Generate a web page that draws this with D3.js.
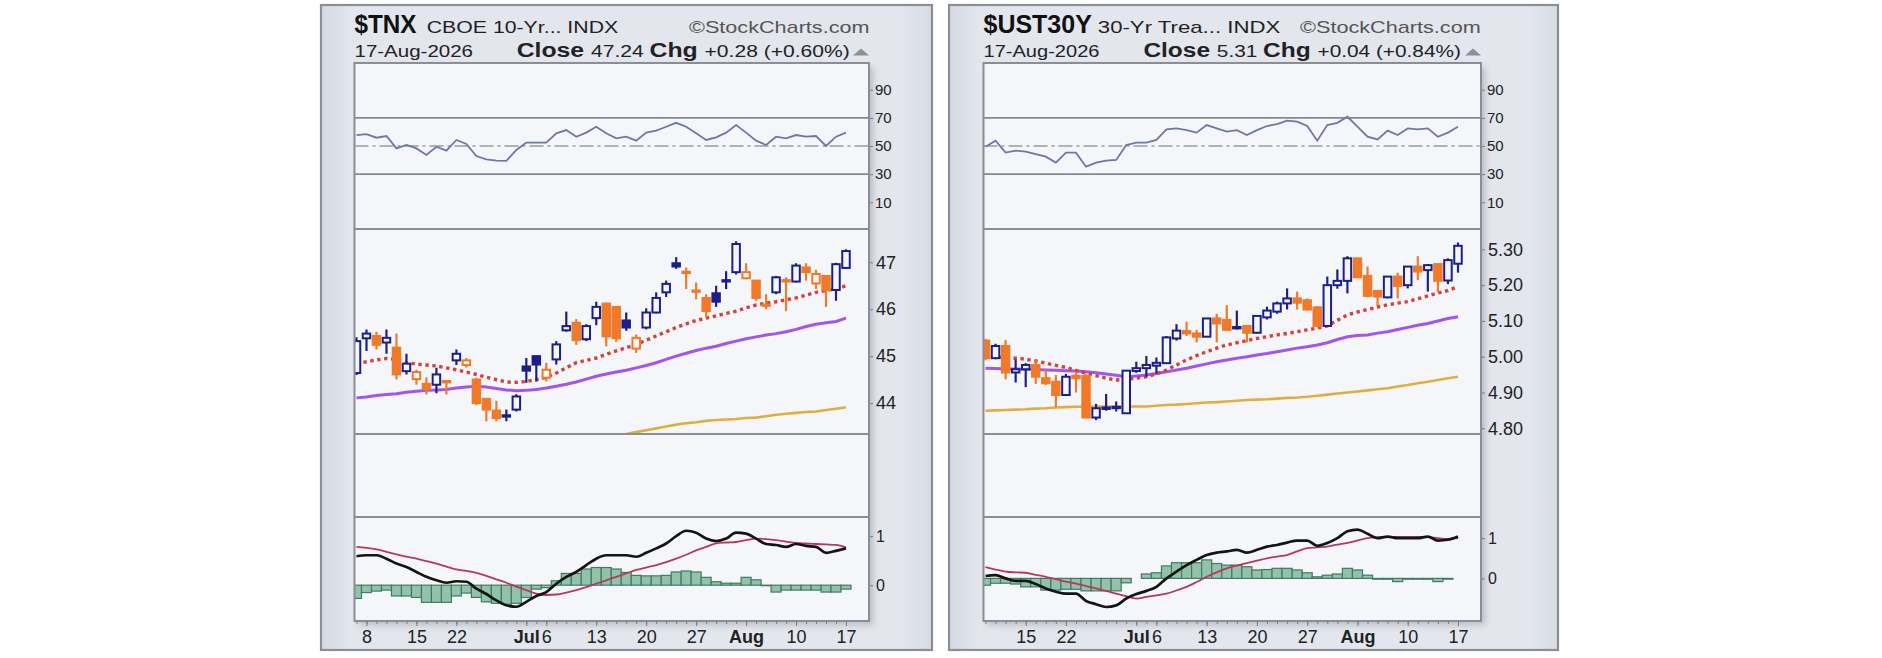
<!DOCTYPE html>
<html>
<head>
<meta charset="utf-8">
<script src="https://cdn.jsdelivr.net/npm/d3@7"></script>
<style>
  html, body { margin: 0; padding: 0; background: #fff; }
  svg { display: block; font-family: "Liberation Sans", Arial, sans-serif; }
</style>
</head>
<body>
<svg id="chart" width="1882" height="658"></svg>
<script>
// ---- dates / ticks ----
const tradingDays = [
  "2026-06-05","2026-06-08","2026-06-09","2026-06-10","2026-06-11","2026-06-12",
  "2026-06-15","2026-06-16","2026-06-17","2026-06-18",
  "2026-06-22","2026-06-23","2026-06-24","2026-06-25","2026-06-26",
  "2026-06-29","2026-06-30","2026-07-01","2026-07-02",
  "2026-07-06","2026-07-07","2026-07-08","2026-07-09","2026-07-10",
  "2026-07-13","2026-07-14","2026-07-15","2026-07-16","2026-07-17",
  "2026-07-20","2026-07-21","2026-07-22","2026-07-23","2026-07-24",
  "2026-07-27","2026-07-28","2026-07-29","2026-07-30","2026-07-31",
  "2026-08-03","2026-08-04","2026-08-05","2026-08-06","2026-08-07",
  "2026-08-10","2026-08-11","2026-08-12","2026-08-13","2026-08-14",
  "2026-08-17"
];
const tickDates  = ["2026-06-08","2026-06-15","2026-06-22","2026-07-01","2026-07-06","2026-07-13","2026-07-20","2026-07-27","2026-08-03","2026-08-10","2026-08-17"];
const tickLabels = ["8","15","22","Jul","6","13","20","27","Aug","10","17"];
const monthLabels = ["Jul","Aug"];

// ---- $TNX ----
const tnxDates = tradingDays;
const tnxPrevClose = 45.0;
const tnxOpen  = [44.64,45.38,45.43,45.29,45.18,44.68,44.51,44.41,44.39,44.47,44.91,44.81,44.50,44.09,43.84,43.74,43.86,44.78,45.00,44.54,44.93,45.55,45.71,45.36,45.81,46.12,46.05,45.76,45.16,45.61,45.93,46.36,46.98,46.80,46.40,46.24,46.34,46.62,46.79,46.66,46.61,46.10,46.36,46.62,46.59,46.89,46.55,46.71,46.41,46.88];
const tnxHigh  = [45.40,45.57,45.52,45.57,45.48,45.05,44.71,44.55,44.75,44.47,45.14,44.96,44.54,44.09,44.05,43.86,44.19,44.96,45.00,44.86,45.32,45.95,45.79,45.68,46.16,46.14,46.05,45.93,45.46,46.02,46.36,46.61,47.11,46.89,46.57,46.32,46.50,46.81,47.45,46.98,46.61,46.32,46.71,46.68,46.98,46.98,46.84,46.71,46.99,47.28];
const tnxLow   = [44.60,45.11,45.14,45.05,44.50,44.61,44.39,44.18,44.21,44.18,44.81,44.76,43.96,43.61,43.61,43.61,43.82,44.43,44.46,44.46,44.82,45.52,45.24,45.32,45.66,45.21,45.30,45.54,45.07,45.57,45.91,46.26,46.86,46.43,46.21,45.82,46.05,46.43,46.74,46.64,46.18,46.00,46.32,45.96,46.57,46.61,46.43,46.05,46.18,46.86];
const tnxClose = [45.32,45.48,45.24,45.39,44.61,44.84,44.66,44.30,44.61,44.45,45.05,44.91,44.00,43.86,43.68,43.72,44.14,44.69,44.82,44.71,45.25,45.64,45.34,45.64,46.05,45.42,45.38,45.61,45.39,45.93,46.24,46.54,46.91,46.78,46.38,45.96,46.16,46.60,47.39,46.79,46.24,46.09,46.68,46.60,46.93,46.79,46.75,46.41,46.96,47.24];
const tnxMA20  = [44.84,44.88,44.92,44.95,44.93,44.86,44.83,44.81,44.79,44.75,44.71,44.66,44.61,44.55,44.50,44.45,44.44,44.46,44.50,44.55,44.64,44.75,44.86,44.91,44.96,45.04,45.11,45.18,45.25,45.34,45.43,45.52,45.61,45.69,45.76,45.81,45.86,45.91,45.96,46.03,46.09,46.13,46.16,46.20,46.24,46.30,46.36,46.40,46.43,46.50];
const tnxMA50  = [44.11,44.13,44.16,44.18,44.20,44.23,44.25,44.27,44.28,44.29,44.32,44.34,44.36,44.34,44.31,44.28,44.26,44.27,44.29,44.32,44.36,44.40,44.45,44.51,44.57,44.62,44.66,44.70,44.75,44.80,44.86,44.93,45.00,45.06,45.12,45.17,45.21,45.27,45.32,45.37,45.41,45.45,45.48,45.52,45.57,45.63,45.68,45.71,45.74,45.81];
const tnxMA200 = [null,null,null,null,null,null,null,null,null,null,null,null,null,null,null,null,null,null,null,null,null,null,null,null,null,43.26,43.30,43.34,43.38,43.42,43.46,43.50,43.54,43.57,43.59,43.62,43.64,43.65,43.66,43.68,43.69,43.72,43.75,43.77,43.79,43.81,43.82,43.85,43.88,43.91];
const tnxRSI   = [57.8,58.5,55.9,57.1,48.3,50.7,48.3,43.6,49.5,46.7,54.3,51.4,42.9,40.5,39.6,39.4,47.2,52.4,52.4,52.4,59.0,61.3,56.6,59.5,63.7,59.0,55.4,56.6,53.8,59.5,60.9,63.7,66.5,63.7,59.0,54.3,56.1,59.5,64.9,59.5,53.8,50.7,56.6,55.4,57.8,56.6,57.1,50.0,56.6,59.5];
const tnxMACD  = [0.59,0.61,0.61,0.54,0.44,0.37,0.27,0.17,0.10,0.05,0.08,0.07,-0.07,-0.18,-0.31,-0.41,-0.44,-0.34,-0.22,-0.14,0.03,0.17,0.27,0.41,0.54,0.61,0.61,0.61,0.58,0.66,0.75,0.85,1.00,1.11,1.07,0.95,0.90,0.95,1.07,1.05,0.95,0.84,0.82,0.78,0.84,0.80,0.78,0.66,0.70,0.75];
const tnxSignal= [0.78,0.76,0.73,0.68,0.63,0.58,0.54,0.49,0.44,0.38,0.32,0.29,0.25,0.19,0.12,0.05,-0.03,-0.10,-0.17,-0.20,-0.19,-0.15,-0.10,-0.04,0.03,0.10,0.17,0.24,0.31,0.36,0.41,0.47,0.54,0.62,0.71,0.78,0.85,0.87,0.88,0.92,0.95,0.94,0.92,0.89,0.86,0.85,0.84,0.83,0.82,0.77];
const tnxHist  = [-0.27,-0.15,-0.12,-0.10,-0.22,-0.22,-0.25,-0.35,-0.35,-0.35,-0.22,-0.16,-0.25,-0.34,-0.37,-0.39,-0.37,-0.25,-0.08,-0.05,0.09,0.24,0.24,0.33,0.36,0.36,0.33,0.26,0.20,0.19,0.19,0.20,0.27,0.29,0.27,0.16,0.07,0.04,0.04,0.16,0.11,-0.01,-0.14,-0.10,-0.10,-0.10,-0.10,-0.14,-0.14,-0.08];

// ---- $UST30Y ----
const ustDates = tradingDays.slice(2);
const ustPrevClose = 5.05;
const ustOpen  = [5.045,4.996,5.030,4.956,4.965,4.977,4.940,4.930,4.893,4.947,4.946,4.830,4.855,4.857,4.842,4.960,4.968,4.975,4.982,5.051,5.072,5.065,5.056,5.107,5.103,5.083,5.086,5.067,5.110,5.126,5.149,5.163,5.158,5.138,5.086,5.200,5.212,5.275,5.226,5.184,5.166,5.224,5.200,5.252,5.242,5.259,5.213,5.260];
const ustHigh  = [5.050,5.036,5.047,4.993,4.982,4.990,4.963,4.949,4.952,4.958,4.952,4.868,4.896,4.875,4.961,4.986,5.002,4.998,5.058,5.091,5.098,5.075,5.107,5.120,5.144,5.129,5.086,5.114,5.140,5.154,5.191,5.182,5.163,5.142,5.224,5.244,5.281,5.275,5.252,5.185,5.224,5.235,5.252,5.281,5.259,5.259,5.275,5.319];
const ustLow   = [4.990,4.993,4.937,4.928,4.915,4.924,4.921,4.859,4.890,4.900,4.830,4.823,4.849,4.847,4.842,4.955,4.944,4.953,4.982,5.045,5.058,5.040,5.056,5.040,5.075,5.076,5.040,5.065,5.104,5.120,5.132,5.132,5.128,5.082,5.086,5.190,5.177,5.222,5.166,5.142,5.163,5.163,5.191,5.214,5.182,5.182,5.203,5.235];
const ustClose = [4.996,5.030,4.956,4.965,4.977,4.944,4.926,4.893,4.944,4.940,4.830,4.856,4.858,4.860,4.961,4.968,4.977,4.983,5.054,5.073,5.065,5.056,5.107,5.093,5.075,5.082,5.067,5.114,5.129,5.149,5.163,5.151,5.132,5.086,5.200,5.212,5.275,5.222,5.170,5.168,5.224,5.198,5.252,5.238,5.256,5.212,5.270,5.310];
const ustMA20  = [5.000,4.999,4.998,4.996,4.993,4.988,4.982,4.976,4.970,4.962,4.954,4.947,4.940,4.935,4.937,4.940,4.944,4.952,4.963,4.977,4.991,5.003,5.014,5.024,5.033,5.039,5.045,5.051,5.056,5.061,5.065,5.070,5.075,5.080,5.086,5.102,5.117,5.125,5.132,5.139,5.145,5.150,5.154,5.162,5.170,5.178,5.185,5.196];
const ustMA50  = [4.968,4.967,4.966,4.966,4.965,4.964,4.963,4.962,4.961,4.960,4.958,4.955,4.952,4.948,4.944,4.946,4.949,4.953,4.958,4.963,4.968,4.974,4.980,4.986,4.991,4.996,5.000,5.005,5.009,5.014,5.019,5.024,5.028,5.033,5.039,5.048,5.056,5.059,5.061,5.066,5.070,5.076,5.082,5.088,5.093,5.100,5.107,5.112];
const ustMA200 = [4.849,4.850,4.851,4.852,4.853,4.855,4.856,4.858,4.859,4.860,4.860,4.861,4.861,4.861,4.861,4.861,4.861,4.863,4.865,4.866,4.868,4.870,4.872,4.873,4.875,4.877,4.879,4.880,4.881,4.883,4.885,4.886,4.888,4.891,4.894,4.897,4.900,4.903,4.906,4.909,4.912,4.917,4.921,4.926,4.930,4.935,4.940,4.944];
const ustRSI   = [49.5,53.8,45.3,46.7,46.0,44.3,42.4,38.2,45.3,45.3,35.3,38.2,39.6,40.1,50.7,52.4,52.4,54.3,61.8,62.5,61.3,59.5,64.9,62.5,60.2,61.3,57.8,61.3,64.2,65.6,68.0,67.3,64.2,53.8,64.9,66.5,70.8,63.7,56.6,54.7,60.9,57.8,62.5,61.8,62.5,56.6,59.5,63.7];
const ustMACD  = [0.06,0.08,0.00,-0.06,-0.06,-0.14,-0.25,-0.33,-0.38,-0.38,-0.56,-0.64,-0.71,-0.67,-0.50,-0.39,-0.31,-0.21,0.00,0.17,0.33,0.46,0.58,0.64,0.67,0.71,0.64,0.71,0.79,0.83,0.89,0.94,0.94,0.81,0.88,1.00,1.17,1.21,1.11,1.00,1.04,1.00,1.00,1.00,1.04,0.94,0.96,1.04];
const ustSignal= [0.28,0.22,0.17,0.15,0.14,0.09,0.04,-0.02,-0.08,-0.13,-0.19,-0.25,-0.31,-0.38,-0.44,-0.50,-0.46,-0.42,-0.38,-0.30,-0.21,-0.09,0.04,0.15,0.25,0.32,0.38,0.44,0.50,0.54,0.58,0.67,0.75,0.77,0.79,0.84,0.88,0.94,1.00,1.02,1.03,1.03,1.03,1.03,1.03,1.00,0.98,1.00];
const ustHist  = [-0.17,-0.12,-0.12,-0.14,-0.21,-0.21,-0.29,-0.29,-0.27,-0.27,-0.31,-0.31,-0.31,-0.31,-0.11,0.00,0.11,0.14,0.31,0.39,0.39,0.39,0.46,0.37,0.33,0.33,0.29,0.21,0.22,0.25,0.25,0.21,0.14,0.04,0.08,0.11,0.25,0.21,0.08,-0.02,-0.02,-0.08,-0.02,-0.02,-0.02,-0.08,-0.02,0.00];

// ---- colours ----
const upColor = "#1b1f8c", downColor = "#f07a2a";
const ma20Color = "#d8403a", ma50Color = "#a155ee", ma200Color = "#e0ae3f";
const rsiColor = "#6f76a8", macdColor = "#141414", signalColor = "#b8385c";
const histFill = "#93c2ab", histStroke = "#3f7c63";
const plotBg = "#f5f6fa", frameColor = "#8b8e94";

const svg = d3.select("#chart");
const defs = svg.append("defs");

const pg = defs.append("linearGradient").attr("id", "panelGrad").attr("x1", 0).attr("x2", 1).attr("y1", 0).attr("y2", 0);
pg.append("stop").attr("offset", "0%").attr("stop-color", "#d3d8e2");
pg.append("stop").attr("offset", "5%").attr("stop-color", "#e3e6ed");
pg.append("stop").attr("offset", "95%").attr("stop-color", "#e3e6ed");
pg.append("stop").attr("offset", "100%").attr("stop-color", "#d7dbe4");

defs.append("filter").attr("id", "soft").attr("x", "-10%").attr("y", "-10%").attr("width", "120%").attr("height", "120%")
  .append("feGaussianBlur").attr("stdDeviation", 3);

// layout (rows are shared by both charts)
const rows = { rsiTop: 63, priceTop: 229, priceBottom: 434, macdTop: 517, macdBottom: 621 };

const charts = [
  {
    id: "tnx", box: { x: 321, y: 5, w: 611, h: 645 }, x0: 354.5, x1: 869,
    dates: tnxDates, prevClose: tnxPrevClose,
    open: tnxOpen, high: tnxHigh, low: tnxLow, close: tnxClose,
    ma20: tnxMA20, ma50: tnxMA50, ma200: tnxMA200,
    rsi: tnxRSI, macd: tnxMACD, signal: tnxSignal, hist: tnxHist,
    priceDomain: [43.34, 47.71], priceTicks: [44, 45, 46, 47], priceFmt: d3.format("d"),
    macdDomain: [-0.73, 1.39],
    head: {
      ticker: ["$TNX", 62], name: ["CBOE 10-Yr... INDX", 426.7, 191.5], brand: [689, 180.5],
      date: 118.5, quote: { x: 516.7, len: 333, close: "47.24", chg: "+0.28 (+0.60%)" }
    }
  },
  {
    id: "ust", box: { x: 949, y: 5, w: 609, h: 645 }, x0: 983.5, x1: 1481,
    dates: ustDates, prevClose: ustPrevClose,
    open: ustOpen, high: ustHigh, low: ustLow, close: ustClose,
    ma20: ustMA20, ma50: ustMA50, ma200: ustMA200,
    rsi: ustRSI, macd: ustMACD, signal: ustSignal, hist: ustHist,
    priceDomain: [4.784, 5.357], priceTicks: [4.8, 4.9, 5.0, 5.1, 5.2, 5.3], priceFmt: d3.format(".2f"),
    macdDomain: [-1.058, 1.525],
    head: {
      ticker: ["$UST30Y", 108.3], name: ["30-Yr Trea... INDX", 1097.8, 182.5], brand: [1300, 180.7],
      date: 116, quote: { x: 1143.4, len: 317.5, close: "5.31", chg: "+0.04 (+0.84%)" }
    }
  }
];

function styleAxis(a, size) {
  a.select(".domain").remove();
  a.selectAll(".tick line").attr("stroke", "#7a7d83");
  a.selectAll(".tick text").attr("fill", "#222").attr("font-size", size)
    .attr("font-family", "'Liberation Sans', Arial, sans-serif");
}

function drawChart(c) {
  const g = svg.append("g").attr("class", c.id);
  const w = c.x1 - c.x0;

  // outer panel
  g.append("rect").attr("x", c.box.x).attr("y", c.box.y).attr("width", c.box.w).attr("height", c.box.h)
    .attr("fill", "url(#panelGrad)").attr("stroke", frameColor).attr("stroke-width", 2.2);

  // header
  const hy1 = 32.5, hy2 = 56.5;
  g.append("text").attr("x", c.x0).attr("y", hy1 + 0.5).attr("font-size", 25.5).attr("font-weight", "bold").attr("fill", "#111")
    .attr("textLength", c.head.ticker[1]).attr("lengthAdjust", "spacingAndGlyphs").text(c.head.ticker[0]);
  g.append("text").attr("x", c.head.name[1]).attr("y", hy1).attr("font-size", 17).attr("fill", "#222")
    .attr("textLength", c.head.name[2]).attr("lengthAdjust", "spacingAndGlyphs").text(c.head.name[0]);
  g.append("text").attr("x", c.head.brand[0]).attr("y", hy1).attr("font-size", 17).attr("fill", "#555")
    .attr("textLength", c.head.brand[1]).attr("lengthAdjust", "spacingAndGlyphs").text("\u00A9StockCharts.com");
  g.append("text").attr("x", c.x0).attr("y", hy2).attr("font-size", 17).attr("fill", "#222")
    .attr("textLength", c.head.date).attr("lengthAdjust", "spacingAndGlyphs").text("17-Aug-2026");
  const q = g.append("text").attr("x", c.head.quote.x).attr("y", hy2).attr("fill", "#222")
    .attr("textLength", c.head.quote.len).attr("lengthAdjust", "spacingAndGlyphs");
  q.append("tspan").attr("font-size", 20).attr("font-weight", "bold").text("Close ");
  q.append("tspan").attr("font-size", 17).text(c.head.quote.close + "  ");
  q.append("tspan").attr("font-size", 20).attr("font-weight", "bold").text("Chg ");
  q.append("tspan").attr("font-size", 17).text(c.head.quote.chg);
  g.append("path").attr("d", `M${c.x1 - 16},${hy2 - 1}L${c.x1 - 8},${hy2 - 8}L${c.x1},${hy2 - 1}Z`).attr("fill", "#8c9099");

  // plot shadow + background
  g.append("rect").attr("x", c.x0 + 4).attr("y", rows.rsiTop + 4).attr("width", w).attr("height", rows.macdBottom - rows.rsiTop)
    .attr("fill", "#6b707a").attr("opacity", 0.35).attr("filter", "url(#soft)");
  g.append("rect").attr("x", c.x0).attr("y", rows.rsiTop).attr("width", w).attr("height", rows.macdBottom - rows.rsiTop)
    .attr("fill", plotBg);

  const x = d3.scalePoint().domain(c.dates).range([c.x0 + 2, c.x1 - 23]);
  const step = x.step();

  // clip paths for each panel
  function clip(name, y0, y1) {
    const id = `${c.id}-${name}`;
    defs.append("clipPath").attr("id", id).append("rect").attr("x", c.x0).attr("y", y0).attr("width", w).attr("height", y1 - y0);
    return `url(#${id})`;
  }

  // ---------- RSI ----------
  const yR = d3.scaleLinear().domain([-9, 109]).range([rows.priceTop, rows.rsiTop]);
  const rsiG = g.append("g").attr("clip-path", clip("rsi", rows.rsiTop, rows.priceTop));
  [70, 30].forEach(v => rsiG.append("line").attr("x1", c.x0).attr("x2", c.x1).attr("y1", yR(v)).attr("y2", yR(v))
    .attr("stroke", "#85888e").attr("stroke-width", 1.8));
  rsiG.append("line").attr("x1", c.x0).attr("x2", c.x1).attr("y1", yR(50)).attr("y2", yR(50))
    .attr("stroke", "#9a9ca1").attr("stroke-width", 1.5).attr("stroke-dasharray", "14,4,3,4");
  rsiG.append("path").datum(c.rsi)
    .attr("d", d3.line().x((d, i) => x(c.dates[i])).y(d => yR(d)))
    .attr("fill", "none").attr("stroke", rsiColor).attr("stroke-width", 1.8);
  const ra = g.append("g").attr("transform", `translate(${c.x1},0)`)
    .call(d3.axisRight(yR).tickValues([10, 30, 50, 70, 90]).tickSize(4).tickPadding(2));
  styleAxis(ra, 15);

  // ---------- price ----------
  const yP = d3.scaleLinear().domain(c.priceDomain).range([rows.priceBottom, rows.priceTop]);
  const pG = g.append("g").attr("clip-path", clip("price", rows.priceTop, rows.priceBottom));
  const maLine = d3.line().defined(d => d != null).x((d, i) => x(c.dates[i])).y(d => yP(d));
  pG.append("path").datum(c.ma200).attr("d", maLine).attr("fill", "none").attr("stroke", ma200Color).attr("stroke-width", 2.6);
  pG.append("path").datum(c.ma50).attr("d", maLine).attr("fill", "none").attr("stroke", ma50Color).attr("stroke-width", 3);
  pG.append("path").datum(c.ma20).attr("d", maLine).attr("fill", "none").attr("stroke", ma20Color)
    .attr("stroke-width", 3.4).attr("stroke-dasharray", "3.4,3.6");

  const bars = c.dates.map((d, i) => ({
    date: d, o: c.open[i], h: c.high[i], l: c.low[i], c: c.close[i],
    up: c.close[i] >= (i === 0 ? c.prevClose : c.close[i - 1])
  }));
  const cg = pG.selectAll(".candle").data(bars).join("g").attr("class", "candle");
  cg.append("line")
    .attr("x1", d => x(d.date)).attr("x2", d => x(d.date))
    .attr("y1", d => yP(d.h)).attr("y2", d => yP(d.l))
    .attr("stroke", d => d.up ? upColor : downColor).attr("stroke-width", 2.2);
  const bw = 7.5;
  cg.append("rect")
    .attr("x", d => x(d.date) - bw / 2).attr("width", bw)
    .attr("y", d => yP(Math.max(d.o, d.c)))
    .attr("height", d => Math.max(1.4, Math.abs(yP(d.o) - yP(d.c))))
    .attr("fill", d => d.c > d.o ? plotBg : (d.up ? upColor : downColor))
    .attr("stroke", d => d.up ? upColor : downColor).attr("stroke-width", 2);

  const pa = g.append("g").attr("transform", `translate(${c.x1},0)`)
    .call(d3.axisRight(yP).tickValues(c.priceTicks).tickFormat(c.priceFmt).tickSize(4).tickPadding(3));
  styleAxis(pa, 18);

  // ---------- MACD ----------
  const yM = d3.scaleLinear().domain(c.macdDomain).range([rows.macdBottom, rows.macdTop]);
  const mG = g.append("g").attr("clip-path", clip("macd", rows.macdTop, rows.macdBottom));
  mG.selectAll(".hist").data(c.hist).join("rect").attr("class", "hist")
    .attr("x", (d, i) => x(c.dates[i]) - step / 2).attr("width", step)
    .attr("y", d => yM(Math.max(0, d))).attr("height", d => Math.abs(yM(d) - yM(0)))
    .attr("fill", histFill).attr("stroke", histStroke).attr("stroke-width", 1.2);
  const mLine = d3.line().curve(d3.curveMonotoneX).x((d, i) => x(c.dates[i])).y(d => yM(d));
  mG.append("path").datum(c.signal).attr("d", mLine).attr("fill", "none").attr("stroke", signalColor).attr("stroke-width", 1.8);
  mG.append("path").datum(c.macd).attr("d", mLine).attr("fill", "none").attr("stroke", macdColor).attr("stroke-width", 2.7);
  const ma = g.append("g").attr("transform", `translate(${c.x1},0)`)
    .call(d3.axisRight(yM).tickValues([0, 1]).tickFormat(d3.format("d")).tickSize(4).tickPadding(3));
  styleAxis(ma, 16);

  // ---------- frames ----------
  [rows.priceTop, rows.priceBottom, rows.macdTop].forEach(yy =>
    g.append("line").attr("x1", c.x0).attr("x2", c.x1).attr("y1", yy).attr("y2", yy)
      .attr("stroke", frameColor).attr("stroke-width", 2));
  g.append("rect").attr("x", c.x0).attr("y", rows.rsiTop).attr("width", w).attr("height", rows.macdBottom - rows.rsiTop)
    .attr("fill", "none").attr("stroke", frameColor).attr("stroke-width", 2);

  // ---------- x axis ----------
  const minor = g.append("g").attr("transform", `translate(0,${rows.macdBottom})`)
    .call(d3.axisBottom(x).tickValues(c.dates).tickSize(3).tickFormat(""));
  styleAxis(minor, 0);
  const labelOf = new Map(tickDates.map((d, i) => [d, tickLabels[i]]));
  const xa = g.append("g").attr("transform", `translate(0,${rows.macdBottom})`)
    .call(d3.axisBottom(x).tickValues(tickDates.filter(d => c.dates.includes(d)))
      .tickFormat(d => labelOf.get(d)).tickSize(5).tickPadding(4));
  styleAxis(xa, 18);
  xa.selectAll(".tick text").attr("font-weight", d => monthLabels.includes(labelOf.get(d)) ? "bold" : null);
}

charts.forEach(drawChart);
</script>
</body>
</html>
